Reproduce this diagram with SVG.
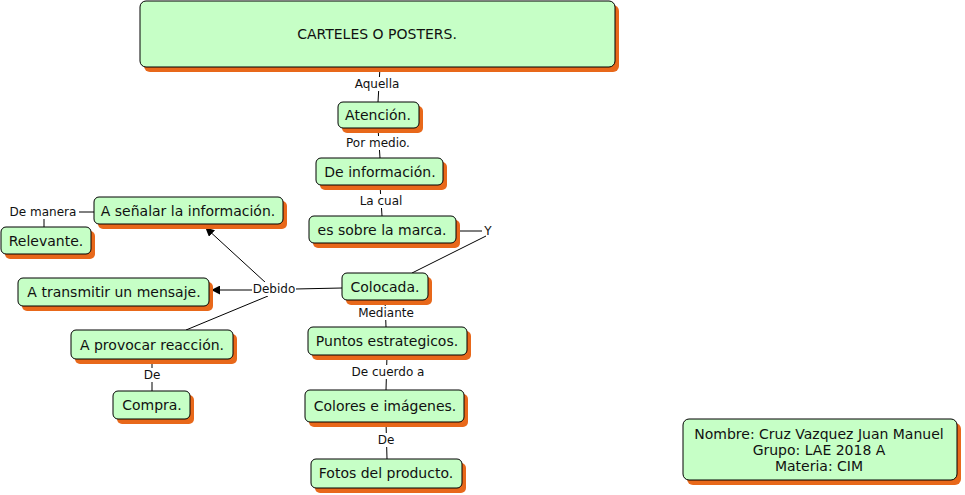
<svg xmlns="http://www.w3.org/2000/svg" width="965" height="495" viewBox="0 0 965 495">
<style>
.sh{fill:#e8681a}
.bx{fill:#c6ffc6;stroke:#000;stroke-width:1}
.t{font-family:"DejaVu Sans",Verdana,sans-serif;font-size:14px;fill:#111;text-anchor:middle}
.l{font-family:"DejaVu Sans",Verdana,sans-serif;font-size:12px;fill:#111;text-anchor:middle}
.c{stroke:#000;stroke-width:1;fill:none}
</style>
<defs>
<marker id="ah" viewBox="0 0 10 10" refX="9" refY="5" markerWidth="9" markerHeight="9" markerUnits="userSpaceOnUse" orient="auto">
<path d="M0,0L10,5L0,10z" fill="#000"/>
</marker>
</defs>
<rect width="965" height="495" fill="#fff"/>
<g id="connectors">
<path class="c" d="M380,67L378,102"/>
<path class="c" d="M378,128L380,158"/>
<path class="c" d="M380,185L382,216"/>
<path class="c" d="M456,231L482,231"/>
<path class="c" d="M486,236L412,273"/>
<path class="c" d="M342,288L295,289"/>
<path class="c" d="M266,283L206,228" marker-end="url(#ah)"/>
<path class="c" d="M252,290L212,290" marker-end="url(#ah)"/>
<path class="c" d="M268,296L186,330"/>
<path class="c" d="M385,300L386,327"/>
<path class="c" d="M387,355L386,390"/>
<path class="c" d="M386,422L387,459"/>
<path class="c" d="M152,359L152,391"/>
<path class="c" d="M94,212L79,212"/>
<path class="c" d="M44,219L44,227"/>
<g>
<rect x="353" y="77" width="48" height="14" fill="#fff"/>
<text class="l" x="377" y="88">Aquella</text>
<rect x="343" y="136" width="70" height="14" fill="#fff"/>
<text class="l" x="378" y="147">Por medio.</text>
<rect x="358" y="194" width="46" height="14" fill="#fff"/>
<text class="l" x="381" y="205">La cual</text>
<text class="l" x="488" y="235">Y</text>
<rect x="252" y="282" width="44" height="14" fill="#fff"/>
<text class="l" x="274" y="293">Debido</text>
<rect x="356" y="306" width="60" height="14" fill="#fff"/>
<text class="l" x="386" y="317">Mediante</text>
<rect x="350" y="365" width="77" height="14" fill="#fff"/>
<text class="l" x="388" y="376">De cuerdo a</text>
<rect x="376" y="433" width="22" height="14" fill="#fff"/>
<text class="l" x="386" y="444">De</text>
<rect x="142" y="368" width="22" height="14" fill="#fff"/>
<text class="l" x="152" y="379">De</text>
<text class="l" x="43" y="216">De manera</text>
</g>
</g>
<g id="n-title">
<rect class="sh" x="144" y="5" width="475" height="67" rx="6"/>
<rect class="bx" x="140" y="1" width="475" height="66" rx="6"/>
<text class="t" x="377" y="39">CARTELES O POSTERS.</text>
</g>
<g id="n-atencion">
<rect class="sh" x="342" y="106" width="81" height="27" rx="5"/>
<rect class="bx" x="338" y="102" width="81" height="26" rx="5"/>
<text class="t" x="378" y="120">Atención.</text>
</g>
<g id="n-deinfo">
<rect class="sh" x="320" y="162" width="127" height="28" rx="5"/>
<rect class="bx" x="316" y="158" width="127" height="27" rx="5"/>
<text class="t" x="380" y="177">De información.</text>
</g>
<g id="n-marca">
<rect class="sh" x="313" y="220" width="147" height="28" rx="5"/>
<rect class="bx" x="309" y="216" width="147" height="27" rx="5"/>
<text class="t" x="382" y="235">es sobre la marca.</text>
</g>
<g id="n-colocada">
<rect class="sh" x="346" y="277" width="86" height="28" rx="5"/>
<rect class="bx" x="342" y="273" width="86" height="27" rx="5"/>
<text class="t" x="385" y="292">Colocada.</text>
</g>
<g id="n-puntos">
<rect class="sh" x="312" y="331" width="159" height="29" rx="5"/>
<rect class="bx" x="308" y="327" width="159" height="28" rx="5"/>
<text class="t" x="387" y="346">Puntos estrategicos.</text>
</g>
<g id="n-colores">
<rect class="sh" x="309" y="394" width="159" height="33" rx="5"/>
<rect class="bx" x="305" y="390" width="159" height="32" rx="5"/>
<text class="t" x="385" y="411">Colores e imágenes.</text>
</g>
<g id="n-fotos">
<rect class="sh" x="315" y="463" width="151" height="30" rx="5"/>
<rect class="bx" x="311" y="459" width="151" height="29" rx="5"/>
<text class="t" x="386" y="478">Fotos del producto.</text>
</g>
<g id="n-senalar">
<rect class="sh" x="98" y="201" width="189" height="28" rx="5"/>
<rect class="bx" x="94" y="197" width="189" height="27" rx="5"/>
<text class="t" x="188" y="216">A señalar la información.</text>
</g>
<g id="n-relevante">
<rect class="sh" x="5" y="231" width="90" height="28" rx="5"/>
<rect class="bx" x="1" y="227" width="90" height="27" rx="5"/>
<text class="t" x="46" y="246">Relevante.</text>
</g>
<g id="n-transmitir">
<rect class="sh" x="22" y="282" width="191" height="29" rx="5"/>
<rect class="bx" x="18" y="278" width="191" height="28" rx="5"/>
<text class="t" x="114" y="297">A transmitir un mensaje.</text>
</g>
<g id="n-provocar">
<rect class="sh" x="75" y="334" width="162" height="30" rx="5"/>
<rect class="bx" x="71" y="330" width="162" height="29" rx="5"/>
<text class="t" x="152" y="350">A provocar reacción.</text>
</g>
<g id="n-compra">
<rect class="sh" x="117" y="395" width="77" height="29" rx="5"/>
<rect class="bx" x="113" y="391" width="77" height="28" rx="5"/>
<text class="t" x="152" y="410">Compra.</text>
</g>
<g id="n-nombre">
<rect class="sh" x="687" y="423" width="274" height="62" rx="6"/>
<rect class="bx" x="683" y="419" width="274" height="61" rx="6"/>
<text class="t" x="819" y="439">Nombre: Cruz Vazquez Juan Manuel</text>
<text class="t" x="819" y="455">Grupo: LAE 2018 A</text>
<text class="t" x="819" y="471">Materia: CIM</text>
</g>
</svg>
